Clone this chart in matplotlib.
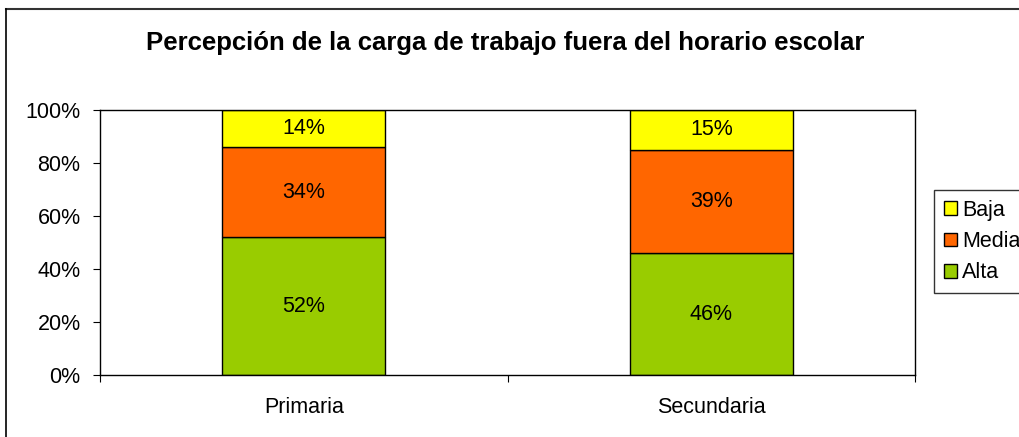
import matplotlib.pyplot as plt
from matplotlib.lines import Line2D
from matplotlib.ticker import PercentFormatter
import numpy as np

plt.rcParams['font.family'] = ['Liberation Sans', 'DejaVu Sans']

niveles = ['Primaria', 'Secundaria']
series = ['Alta', 'Media', 'Baja']
alta = [52, 46]
media = [34, 39]
baja = [14, 15]
colores = {'Alta': '#99CC00', 'Media': '#FF6600', 'Baja': '#FFFF00'}

fig = plt.figure(figsize=(10.19, 4.37), dpi=100)
ax = fig.add_axes([0.0981, 0.1419, 0.8000, 0.6064])

# barras apiladas
x = np.arange(len(niveles))
bottom = np.zeros(len(niveles))
handles = []
for nombre, vals in zip(series, [alta, media, baja]):
    vals = np.array(vals, dtype=float) / 100
    bars = ax.bar(x, vals, 0.4, bottom=bottom, color=colores[nombre],
                  edgecolor='black', linewidth=1, label=nombre)
    for xi, b, v in zip(x, bottom, vals):
        ax.text(xi, b + v / 2, f'{v*100:.0f}%', ha='center', va='center',
                fontsize=15.5)
    bottom += vals
    handles.append(bars)

ax.set_xlim(-0.5, 1.5)
ax.set_ylim(0, 1)
ax.set_yticks(np.arange(0, 1.01, 0.2))
ax.yaxis.set_major_formatter(PercentFormatter(1.0, decimals=0))
ax.set_xticks([-0.5, 0.5, 1.5])
ax.set_xticklabels([])
ax.set_xticks(x, minor=True)
ax.set_xticklabels(niveles, minor=True)
ax.tick_params(axis='x', which='minor', length=0, pad=16, labelsize=15.5)
ax.tick_params(axis='x', which='major', length=5, direction='out')
ax.tick_params(axis='y', length=5, direction='out', labelsize=15.5, pad=9)
for s in ax.spines.values():
    s.set_linewidth(1)
    s.set_color('black')

fig.suptitle('Percepción de la carga de trabajo fuera del horario escolar',
             x=0.496, y=0.9016, va='center', fontsize=18.5, fontweight='bold')

leg = fig.legend(handles[::-1], series[::-1], loc='upper left',
                 bbox_to_anchor=(0.9166, 0.5652), fontsize=15.5, frameon=True,
                 fancybox=False, edgecolor='black', handlelength=0.6,
                 handleheight=0.6, handletextpad=0.25, borderpad=0.45,
                 labelspacing=0.48, borderaxespad=0)
leg.get_frame().set_linewidth(1)

# borde del grafico
fig.add_artist(Line2D([0.0059, 1.0], [0.9794, 0.9794], color='#333333',
                      linewidth=1.5, transform=fig.transFigure))
fig.add_artist(Line2D([0.0059, 0.0059], [0.0, 0.9794], color='black',
                      linewidth=1.2, transform=fig.transFigure))

fig.savefig('out.png', dpi=100, facecolor='white')
